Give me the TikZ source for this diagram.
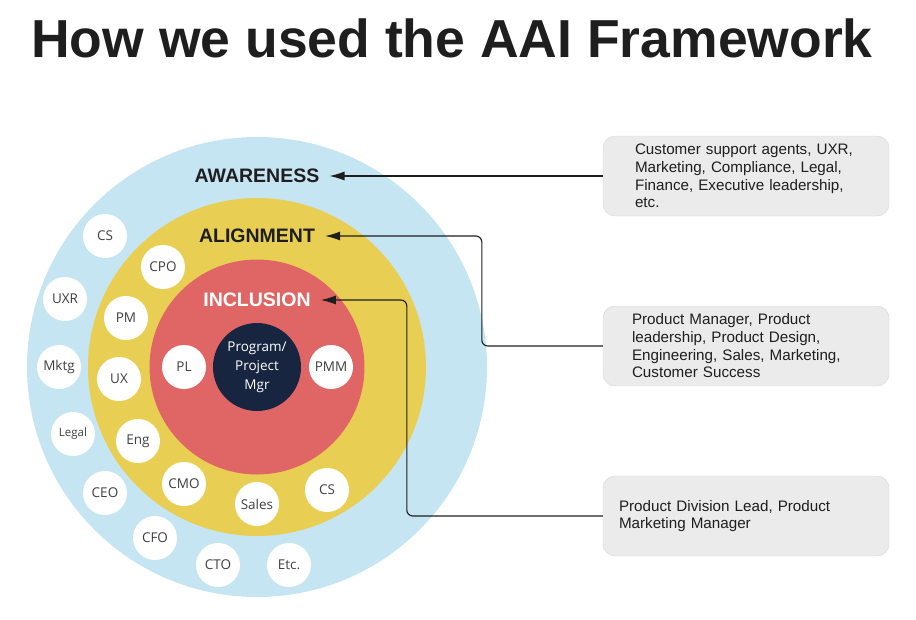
\documentclass[tikz,border=0pt]{standalone}
\usepackage{fontspec}
\setmainfont{Liberation Sans}
\newfontfamily\circfont{Open Sans}
\usetikzlibrary{shapes,arrows.meta,positioning,calc}

\definecolor{awarecol}{HTML}{C5E5F3}
\definecolor{aligncol}{HTML}{E8CF54}
\definecolor{inclcol}{HTML}{E06666}
\definecolor{corecol}{HTML}{172540}
\definecolor{boxcol}{HTML}{EBEBEB}
\definecolor{boxline}{HTML}{D3D6DB}
\definecolor{inkcol}{HTML}{1E1E1E}

\begin{document}
\begin{tikzpicture}[
    x=1pt, y=-1pt,
    ring/.style={circle, inner sep=0pt},
    member/.style={circle, fill=white, minimum size=44pt, inner sep=0pt,
                   font=\circfont\fontsize{13.5}{16}\selectfont, text=inkcol!85},
    level/.style={font=\bfseries\fontsize{19.5}{22}\selectfont, inner xsep=10pt, text=inkcol},
    infobox/.style={rectangle, draw=boxline, fill=boxcol, rounded corners=12pt,
                    minimum width=286pt, minimum height=80pt, align=left,
                    font=\fontsize{15.2}{17.7}\selectfont, text=inkcol},
    link/.style={-{Latex[length=15pt,width=9pt]}, draw=inkcol, line width=1.1pt, rounded corners=6pt}
]
\useasboundingbox (0,0) rectangle (916,619);

% title
\node[font=\bfseries\fontsize{53.5}{60}\selectfont, text=inkcol, anchor=base] (title) at (452,57)
    {How we used the AAI Framework};

% rings
\node[ring, fill=awarecol, minimum size=460pt] (aware) at (257,367) {};
\node[ring, fill=aligncol, minimum size=338pt] (align) at (257,367) {};
\node[ring, fill=inclcol, minimum size=215pt] (incl) at (257,367) {};
\node[ring, fill=corecol, minimum size=88pt, text=white, align=center,
      font=\circfont\fontsize{13.5}{19}\selectfont] (core) at (257,367) {Program/\\Project\\Mgr};

% ring labels
\node[level] (awarelbl) at (257,176) {AWARENESS};
\node[level] (alignlbl) at (257,236) {ALIGNMENT};
\node[level, text=white] (incllbl) at (257,300) {INCLUSION};

% awareness members
\node[member] (cs1) at (105,236) {CS};
\node[member] (uxr) at (65,299) {UXR};
\node[member] (mktg) at (59,367) {Mktg};
\node[member, font=\circfont\fontsize{11.5}{13}\selectfont] (legal) at (73,434) {Legal};
\node[member] (ceo) at (105,493) {CEO};
\node[member] (cfo) at (155,538) {CFO};
\node[member] (cto) at (218,565) {CTO};
\node[member] (etc) at (289,565) {Etc.};

% alignment members
\node[member] (cpo) at (163,267) {CPO};
\node[member] (pm) at (126,318) {PM};
\node[member] (ux) at (119,379) {UX};
\node[member] (eng) at (138,441) {Eng};
\node[member] (cmo) at (184,484) {CMO};
\node[member] (sales) at (257,504) {Sales};
\node[member] (cs2) at (327,490) {CS};

% inclusion members
\node[member] (pl) at (184,367) {PL};
\node[member] (pmm) at (331,367) {PMM};

% who sits in each ring
\node[infobox, text width=222pt] (box1) at (746,176)
    {Customer support agents, UXR,\\Marketing, Compliance, Legal,\\Finance, Executive leadership,\\etc.};
\node[infobox, text width=228pt] (box2) at (746,346)
    {Product Manager, Product\\leadership, Product Design,\\Engineering, Sales, Marketing,\\Customer Success};
\node[infobox, text width=254pt] (box3) at (746,516)
    {Product Division Lead, Product\\Marketing Manager};

\draw[link] (box1.west) -- (awarelbl.east);
\draw[link] (box2.west) -- ++(-121,0) |- (alignlbl.east);
\draw[link] (box3.west) -- ++(-196,0) |- (incllbl.east);
\end{tikzpicture}
\end{document}
